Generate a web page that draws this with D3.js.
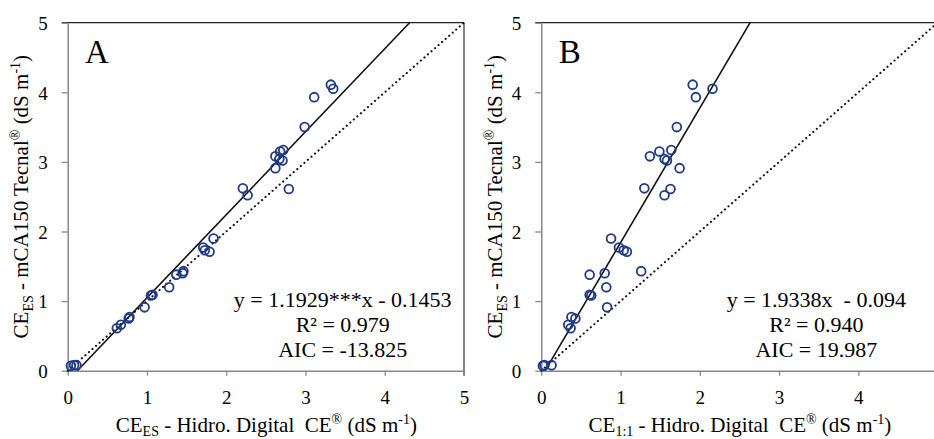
<!DOCTYPE html>
<html>
<head>
<meta charset="utf-8">
<script src="https://cdn.jsdelivr.net/npm/d3@7"></script>
<style>
  html, body { margin: 0; padding: 0; background: #fff; }
  svg { display: block; }
  svg text { font-family: "Liberation Serif", "Times New Roman", Tinos, "Noto Serif", "DejaVu Serif", "Liberation Sans", sans-serif !important; fill: #000; }
</style>
</head>
<body>
<svg id="chart" width="934" height="439"></svg>
<script>
// Electrical conductivity of the saturated extract (mCA150 Tecnal) against
// two Hidro. Digital CE readings, one value per sample.
const ceMca150 = [0.07, 0.08, 0.08, 0.61, 0.66, 0.75, 0.77, 0.91, 1.08, 1.09, 1.20,
  1.38, 1.40, 1.43, 1.71, 1.73, 1.77, 1.90, 2.52, 2.61, 2.62, 2.91, 3.02, 3.04,
  3.08, 3.15, 3.17, 3.50, 3.93, 4.05, 4.11];
const ceHidroES = [0.04, 0.08, 0.11, 0.62, 0.67, 0.77, 0.78, 0.97, 1.05, 1.07, 1.28,
  1.37, 1.45, 1.46, 1.79, 1.73, 1.71, 1.84, 2.27, 2.79, 2.21, 2.62, 2.71, 2.67,
  2.62, 2.68, 2.72, 2.99, 3.11, 3.35, 3.32];
const ceHidro11 = [0.02, 0.04, 0.13, 0.37, 0.34, 0.43, 0.38, 0.83, 0.63, 0.61, 0.82,
  0.61, 0.80, 1.26, 1.08, 1.04, 0.98, 0.88, 1.555, 1.63, 1.30, 1.745, 1.585, 1.555,
  1.37, 1.49, 1.64, 1.71, 1.95, 2.16, 1.91];

const axisTicks = [0, 1, 2, 3, 4, 5];
const panelLetters = ["A", "B"];
const slopes = [1.1929, 1.9338];
const intercepts = [-0.1453, -0.094];
const equationLines = [
  ["y = 1.1929***x - 0.1453", "R\u00B2 = 0.979", "AIC = -13.825"],
  ["y = 1.9338x  - 0.094", "R\u00B2 = 0.940", "AIC = 19.987"]
];
const xSubscripts = ["ES", "1:1"];

const fontStack = "'Liberation Serif', 'Times New Roman', Tinos, 'Noto Serif', 'DejaVu Serif', 'Liberation Sans', sans-serif";
const svg = d3.select("#chart");
const plotW = 396.3, plotH = 348;
const panelOrigins = [[67.7, 22.7], [541.3, 22.7]];

const x = d3.scaleLinear().domain([0, 5]).range([0, plotW]);
const y = d3.scaleLinear().domain([0, 5]).range([plotH, 0]);

const panels = [
  { xs: ceHidroES, ys: ceMca150 },
  { xs: ceHidro11, ys: ceMca150 }
];

panels.forEach((p, i) => {
  const g = svg.append("g")
    .attr("transform", `translate(${panelOrigins[i][0]},${panelOrigins[i][1]})`)
    .attr("font-family", fontStack);

  // frame: top and right edges
  g.append("line")
    .attr("x1", x(0) - 6).attr("x2", x(5))
    .attr("y1", y(5)).attr("y2", y(5))
    .attr("stroke", "#222").attr("stroke-width", 1.2);
  g.append("line")
    .attr("x1", x(5)).attr("x2", x(5))
    .attr("y1", y(5)).attr("y2", y(0) + 5)
    .attr("stroke", "#333").attr("stroke-width", 1.2);

  // axes
  const yAxis = g.append("g")
    .call(d3.axisLeft(y).tickValues(axisTicks).tickFormat(d3.format("d"))
      .tickSize(6).tickSizeOuter(0).tickPadding(14));
  const xAxis = g.append("g")
    .attr("transform", `translate(0,${plotH})`)
    .call(d3.axisBottom(x).tickValues(axisTicks).tickFormat(d3.format("d"))
      .tickSize(5).tickSizeOuter(0).tickPadding(15));
  [yAxis, xAxis].forEach(a => {
    a.attr("font-family", fontStack).attr("font-size", 19);
    a.select(".domain").attr("stroke", "#888").attr("stroke-width", 1.5);
    a.selectAll(".tick line").attr("stroke", "#888").attr("stroke-width", 1.3);
    a.selectAll(".tick text").attr("fill", "#000");
  });
  yAxis.selectAll(".tick text").attr("dy", "0.36em");

  // 1:1 reference line (dotted)
  g.append("line")
    .attr("x1", x(0)).attr("y1", y(0))
    .attr("x2", x(5)).attr("y2", y(5))
    .attr("stroke", "#111").attr("stroke-width", 2.1)
    .attr("stroke-linecap", "round")
    .attr("stroke-dasharray", "0.1 4.6");

  // fitted regression line, from y = 0 to y = 5
  const b = slopes[i], a0 = intercepts[i];
  const xStart = (0 - a0) / b, xEnd = (5 - a0) / b;
  g.append("line")
    .attr("x1", x(xStart)).attr("y1", y(b * xStart + a0))
    .attr("x2", x(xEnd)).attr("y2", y(b * xEnd + a0))
    .attr("stroke", "#111").attr("stroke-width", 1.6);

  // samples
  g.append("g").selectAll("circle")
    .data(p.xs.map((v, k) => [v, p.ys[k]]))
    .join("circle")
    .attr("cx", d => x(d[0]))
    .attr("cy", d => y(d[1]))
    .attr("r", 4.4)
    .attr("fill", "none")
    .attr("stroke", "#1F3A86")
    .attr("stroke-width", 1.8);

  // panel letter
  g.append("text")
    .attr("x", x(0.22)).attr("y", 40.5)
    .attr("font-size", 33)
    .text(panelLetters[i]);

  // regression summary
  const eq = g.append("text")
    .attr("text-anchor", "middle")
    .attr("font-size", 22)
    .style("white-space", "pre");
  equationLines[i].forEach((line, k) => {
    eq.append("tspan")
      .attr("x", x(3.47))
      .attr("y", 284.5 + k * 25)
      .text(line);
  });

  // x-axis title
  const xt = g.append("text")
    .attr("x", plotW / 2 + 0.5).attr("y", 409.5)
    .attr("text-anchor", "middle")
    .attr("font-size", 21)
    .style("white-space", "pre");
  xt.append("tspan").text("CE");
  xt.append("tspan").attr("dy", 4).attr("font-size", 14).text(xSubscripts[i]);
  xt.append("tspan").attr("dy", -4).text(" - Hidro. Digital  CE");
  xt.append("tspan").attr("dy", -8).attr("font-size", 14).text("\u00AE");
  xt.append("tspan").attr("dy", 8).text(" (dS m");
  xt.append("tspan").attr("dy", -8).attr("font-size", 14).text("-1");
  xt.append("tspan").attr("dy", 8).text(")");

  // y-axis title
  const yt = g.append("text")
    .attr("transform", `translate(${-39.5},${plotH / 2}) rotate(-90)`)
    .attr("text-anchor", "middle")
    .attr("font-size", 21);
  yt.append("tspan").text("CE");
  yt.append("tspan").attr("dy", 5).attr("font-size", 14).text("ES");
  yt.append("tspan").attr("dy", -5).text(" - mCA150 Tecnal");
  yt.append("tspan").attr("dy", -8).attr("font-size", 14).text("\u00AE");
  yt.append("tspan").attr("dy", 8).text(" (dS m");
  yt.append("tspan").attr("dy", -8).attr("font-size", 14).text("-1");
  yt.append("tspan").attr("dy", 8).text(")");
});
</script>
</body>
</html>
